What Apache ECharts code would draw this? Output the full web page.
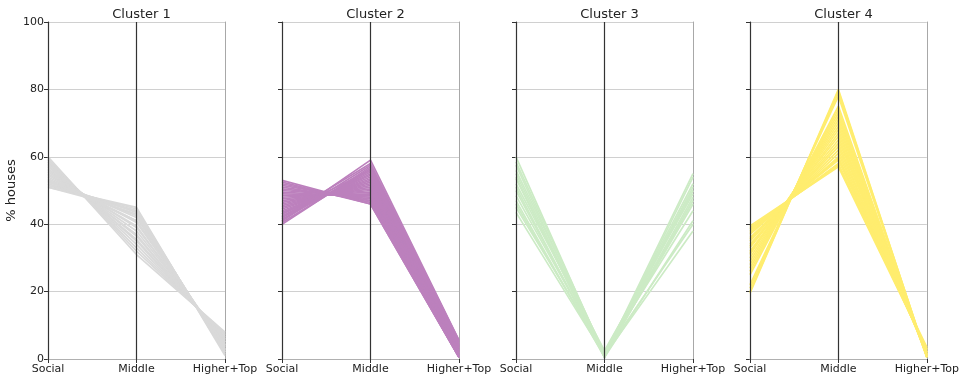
<!DOCTYPE html>
<html>
<head>
<meta charset="utf-8">
<script src="https://cdn.jsdelivr.net/npm/echarts@6/dist/echarts.min.js"></script>
<style>
  html, body { margin: 0; padding: 0; background: #fff; }
  #chart { width: 962px; height: 380px; }
</style>
</head>
<body>
<div id="chart"></div>
<script>
// Parallel-coordinate profiles: share of houses per tenure band, one panel per cluster.
const categories = ['Social', 'Middle', 'Higher+Top'];
const clusterNames = ['Cluster 1', 'Cluster 2', 'Cluster 3', 'Cluster 4'];
const clusterColors = ['#d9d9d9', '#bc80bd', '#ccebc5', '#ffed6f'];
const yTicks = [0, 20, 40, 60, 80, 100];

// Each row: [Social, Middle, Higher+Top]
const cluster1Rows = [
  [60, 31, 8], [59.5, 32, 7.5], [59, 33, 7], [58.5, 34, 6.5], [58, 35, 6],
  [57.5, 35.5, 6], [57, 36.5, 5.5], [56.5, 37, 5], [56, 38, 5], [55.5, 39, 4.5],
  [55, 39.5, 4], [54.5, 40.5, 4], [54, 41, 3.5], [53.5, 42, 3], [53, 42.5, 3],
  [52.5, 43.5, 2.5], [52, 44, 2], [51.5, 44.5, 1.5], [51, 45, 1], [52, 43, 2.5],
  [53, 41, 4], [51, 44, 2]
];
const cluster2Rows = [
  [40, 57, 5], [40.5, 56.5, 4.5], [41, 59, 5.5], [41.5, 56, 4.5], [42, 55.5, 4],
  [42.5, 55, 4], [43, 54.5, 3.5], [43.5, 54, 3.5], [44, 53.5, 3], [44.5, 53, 3],
  [45, 52.5, 3], [45.5, 52, 2.5], [46, 51.5, 2.5], [46.5, 51, 2], [47, 50.5, 2],
  [47.5, 50, 2], [48, 49.5, 1.5], [48.5, 49, 1.5], [49, 48.5, 1.5], [49.5, 48, 1],
  [50, 48, 1], [50.5, 47.5, 1], [51, 47, 1], [51.5, 47, 0.5], [52, 46.5, 0.5],
  [52.5, 46, 0.5], [53, 46, 0.5], [41, 57.5, 5], [42, 58, 5.5], [43, 56, 4]
];
const cluster3Rows = [
  [60, 1, 38], [58.5, 1.5, 40], [57.5, 0.5, 41], [56, 2, 44], [55, 1, 46],
  [54, 0.5, 47], [53.5, 1, 48], [52, 2.5, 49], [51, 0.5, 50], [50, 1, 51],
  [48.5, 1.5, 52], [47, 0.5, 54], [46, 1, 55], [45, 2, 50], [43.5, 1, 47]
];
const cluster4Rows = [
  [19.5, 80, 0.5], [20, 79.5, 0.5], [21, 79, 0.5], [22, 78, 0.5], [25, 75, 0.5],
  [26, 74, 1], [27, 73, 0.5], [28, 72, 1], [29, 71, 1], [30, 70, 1],
  [31, 69, 1.5], [31.5, 68, 1], [32, 67, 1.5], [33, 66, 1.5], [33.5, 65, 2],
  [34, 64, 1.5], [35, 63, 2], [35.5, 62, 2], [36, 61, 2], [37, 60, 2.5],
  [37.5, 59.5, 2.5], [38, 59, 3], [38.5, 58, 3], [39, 57.5, 3.5], [39.5, 57, 3]
];
const clusterRows = [cluster1Rows, cluster2Rows, cluster3Rows, cluster4Rows];

const FONT = 'DejaVu Sans';
const panelLeft = [48, 282, 516, 750];
const panelWidth = 177;

const grids = [], xAxes = [], yAxes = [], titles = [], series = [];

panelLeft.forEach((left, i) => {
  grids.push({ left: left, top: 22, width: panelWidth, bottom: 21 });

  titles.push({
    text: clusterNames[i],
    left: left + panelWidth / 2,
    top: 3,
    textAlign: 'center',
    textStyle: { fontFamily: FONT, fontSize: 13, fontWeight: 'normal', color: '#222' }
  });

  // bottom category axis, kept above the profile lines
  xAxes.push({
    gridIndex: i, type: 'category', data: categories, boundaryGap: false,
    position: 'bottom', z: 10,
    axisLine: { show: true, lineStyle: { color: '#333', width: 1 } },
    axisTick: { show: true, length: 4, lineStyle: { color: '#333' } },
    axisLabel: { show: true, interval: 0, margin: 5, fontFamily: FONT, fontSize: 11, color: '#222' },
    splitLine: { show: false }
  });
  // top border; its split lines give the dark vertical rules at Social and Middle
  xAxes.push({
    gridIndex: i, type: 'category', data: categories, boundaryGap: false,
    position: 'top', z: 10,
    axisLine: { show: true, lineStyle: { color: '#b0b0b0', width: 1 } },
    axisTick: { show: false }, axisLabel: { show: false },
    splitLine: { show: true, showMinLine: true, showMaxLine: false, lineStyle: { color: '#333', width: 1.2 } }
  });

  yAxes.push({
    gridIndex: i, type: 'value', min: yTicks[0], max: yTicks[yTicks.length - 1], interval: 20,
    position: 'left',
    name: i === 0 ? '% houses' : '',
    nameLocation: 'middle', nameRotate: 90, nameGap: 30,
    nameTextStyle: { fontFamily: FONT, fontSize: 13, color: '#222' },
    axisLine: { show: true, lineStyle: { color: '#3a3a3a', width: 1 } },
    axisTick: { show: true, length: 4, lineStyle: { color: '#333' } },
    axisLabel: { show: i === 0, margin: 4, fontFamily: FONT, fontSize: 11, color: '#222' },
    splitLine: { show: true, lineStyle: { color: '#d0d0d0', width: 1 } }
  });
  // right border
  yAxes.push({
    gridIndex: i, type: 'value', min: 0, max: 100, position: 'right',
    axisLine: { show: true, lineStyle: { color: '#a8a8a8', width: 1 } },
    axisTick: { show: false }, axisLabel: { show: false }, splitLine: { show: false }
  });

  clusterRows[i].forEach(row => {
    series.push({
      type: 'line',
      xAxisIndex: 2 * i,
      yAxisIndex: 2 * i,
      data: row,
      symbol: 'none',
      silent: true,
      animation: false,
      lineStyle: { color: clusterColors[i], width: 1.7 }
    });
  });
});

const chart = echarts.init(document.getElementById('chart'), null, { renderer: 'canvas' });
chart.setOption({
  backgroundColor: '#fff',
  animation: false,
  title: titles,
  grid: grids,
  xAxis: xAxes,
  yAxis: yAxes,
  series: series
});
</script>
</body>
</html>
